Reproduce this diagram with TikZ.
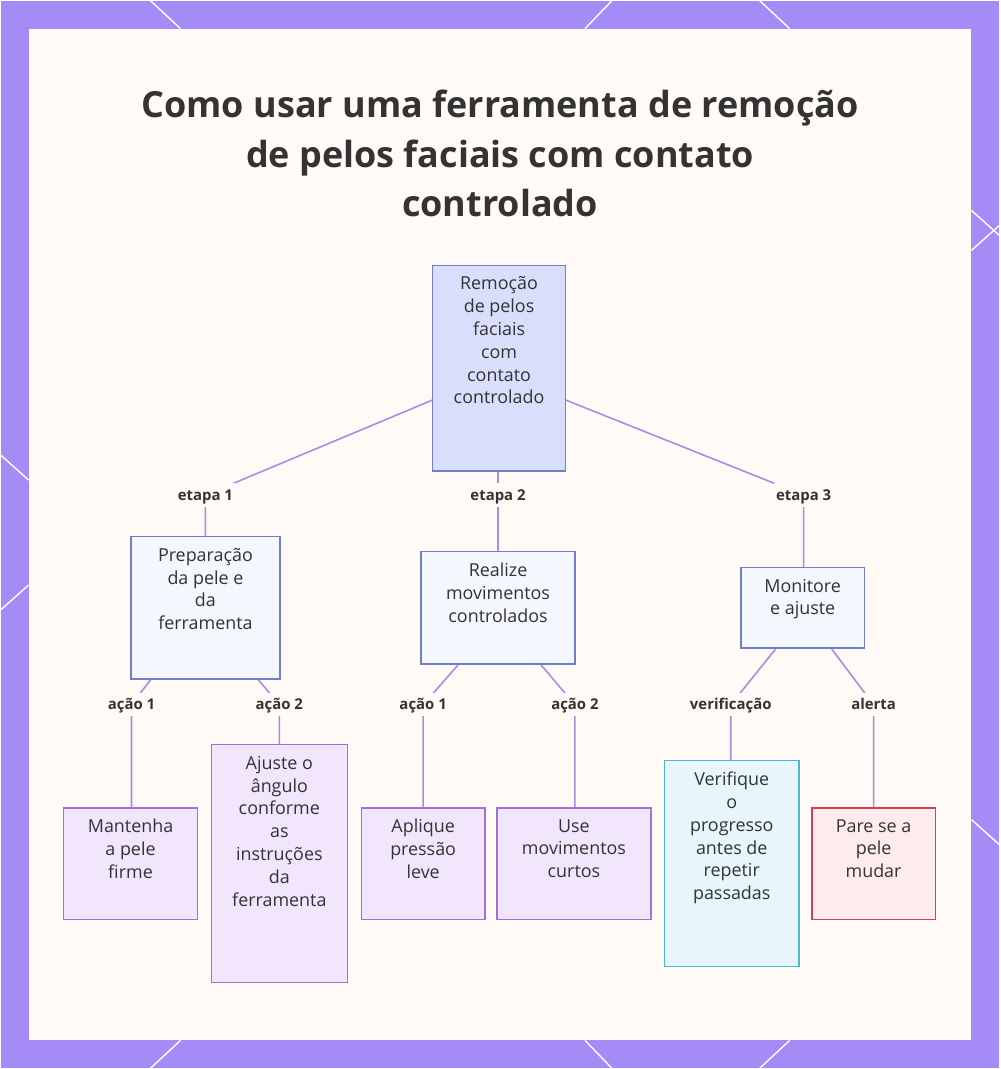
\documentclass[tikz,border=0pt]{standalone}
\usepackage{fontspec}
\setmainfont{Open Sans}
\definecolor{frame}{HTML}{A48BF5}
\definecolor{edge}{HTML}{A98BE0}
\definecolor{rootfill}{HTML}{D9DEFB}
\definecolor{rootdraw}{HTML}{6F80C8}
\definecolor{stepfill}{HTML}{F5F7FF}
\definecolor{actfill}{HTML}{F1E6FB}
\definecolor{actdraw}{HTML}{A370D8}
\definecolor{chkfill}{HTML}{E6F6FB}
\definecolor{chkdraw}{HTML}{4BB8D8}
\definecolor{alrfill}{HTML}{FDEBEE}
\definecolor{alrdraw}{HTML}{D04050}
\definecolor{ink}{HTML}{333333}
% box text, top aligned: {width px}{height px}{lines}
\newcommand{\boxtxt}[3]{\parbox[c][\dimexpr0.5669pt*#2\relax][t]{\dimexpr0.5669pt*#1\relax}{\centering\vspace*{6.5pt}#3}}

\begin{document}
\begin{tikzpicture}[x=0.02cm, y=-0.02cm,
    box/.style={draw, rectangle, inner sep=0pt,
      font=\fontsize{10.2}{13}\selectfont, text=ink, line width=0.8pt},
    root/.style={box, fill=rootfill, draw=rootdraw},
    stage/.style={box, fill=stepfill, draw=rootdraw},
    act/.style={box, fill=actfill, draw=actdraw},
    chk/.style={box, fill=chkfill, draw=chkdraw},
    alr/.style={box, fill=alrfill, draw=alrdraw},
    lbl/.style={font=\bfseries\fontsize{8.5}{10}\selectfont, text=ink, fill=white!96!orange,
      inner sep=1pt, text height=1.6ex, text depth=0.5ex},
    link/.style={draw=edge, line width=0.9pt}]

  % frame
  \fill[frame] (0,0) rectangle (1000,1069);
  \fill[white!96!orange] (28,28) rectangle (972,1041);
  \begin{scope}[white, line width=0.8pt]
    \draw (150,0) -- (180,28);  \draw (585,28) -- (612,0);
    \draw (760,0) -- (790,28);  \draw (972,210) -- (1000,235);
    \draw (972,250) -- (1000,225); \draw (0,455) -- (28,480);
    \draw (0,610) -- (28,585);  \draw (972,820) -- (1000,845);
    \draw (150,1069) -- (180,1041); \draw (585,1041) -- (612,1069);
    \draw (760,1069) -- (790,1041);
  \end{scope}

  % title
  \node[font=\bfseries\fontsize{20.5}{28}\selectfont, text=ink, align=center] (title) at (500,153)
    {Como usar uma ferramenta de remoção\\de pelos faciais com contato\\controlado};

  % connectors
  \coordinate (e1) at (205,495); \coordinate (e3) at (804,495);
  \coordinate (a1) at (131,705); \coordinate (a2) at (279,705);
  \coordinate (a3) at (423,705); \coordinate (a4) at (575,705);
  \coordinate (a5) at (731,705); \coordinate (a6) at (874,705);
  \coordinate (r1) at (432,400); \coordinate (r3) at (566,400);
  \draw[link] (r1) -- (e1) -- (205,537);
  \draw[link] (498,472) -- (498,552);
  \draw[link] (r3) -- (e3) -- (804,568);
  \draw[link] (150,680) -- (a1) -- (131,808);
  \draw[link] (258,680) -- (a2) -- (279,745);
  \draw[link] (458,665) -- (a3) -- (423,808);
  \draw[link] (541,665) -- (a4) -- (575,808);
  \draw[link] (776,649) -- (a5) -- (731,761);
  \draw[link] (832,649) -- (a6) -- (874,808);

  % nodes
  \node[root] (rem) at (499,368)
    {\boxtxt{134}{207}{Remoção\\de pelos\\faciais\\com\\contato\\controlado}};
  \node[stage] (prep) at (205,608)
    {\boxtxt{150}{143}{Preparação\\da pele e\\da\\ferramenta}};
  \node[stage] (real) at (498,608)
    {\boxtxt{155}{113}{Realize\\movimentos\\controlados}};
  \node[stage] (moni) at (803,608)
    {\boxtxt{124}{81}{Monitore\\e ajuste}};
  \node[act] (mant) at (130,864)
    {\boxtxt{135}{112}{Mantenha\\a pele\\firme}};
  \node[act] (ajus) at (279,864)
    {\boxtxt{137}{239}{Ajuste o\\ângulo\\conforme\\as\\instruções\\da\\ferramenta}};
  \node[act] (apli) at (423,864)
    {\boxtxt{124}{112}{Aplique\\pressão\\leve}};
  \node[act] (curt) at (574,864)
    {\boxtxt{155}{112}{Use\\movimentos\\curtos}};
  \node[chk] (veri) at (732,864)
    {\boxtxt{135}{207}{Verifique\\o\\progresso\\antes de\\repetir\\passadas}};
  \node[alr] (pare) at (874,864)
    {\boxtxt{124}{112}{Pare se a\\pele\\mudar}};

  % labels
  \node[lbl] (l1) at (e1) {etapa 1};
  \node[lbl] (l2) at (498,495) {etapa 2};
  \node[lbl] (l3) at (e3) {etapa 3};
  \node[lbl] (l4) at (a1) {ação 1};
  \node[lbl] (l5) at (a2) {ação 2};
  \node[lbl] (l6) at (a3) {ação 1};
  \node[lbl] (l7) at (a4) {ação 2};
  \node[lbl] (l8) at (a5) {verificação};
  \node[lbl] (l9) at (a6) {alerta};
\end{tikzpicture}
\end{document}
